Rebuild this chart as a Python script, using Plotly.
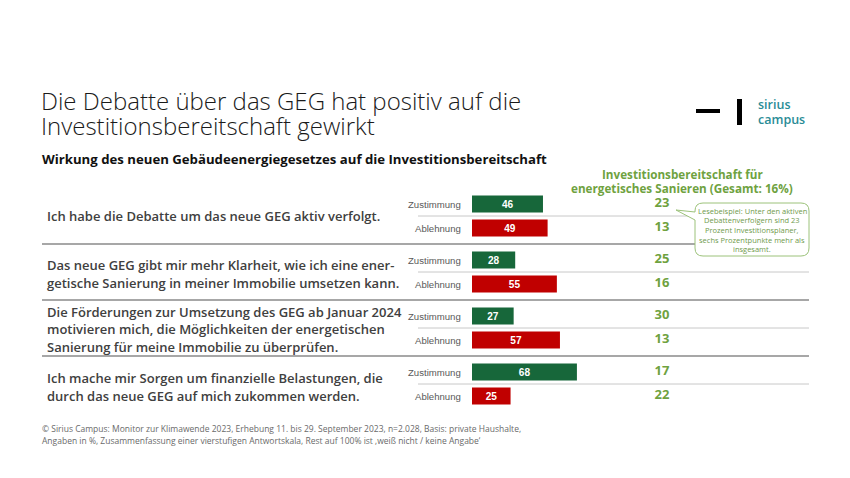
import plotly.graph_objects as go

W, H = 850, 478

statements = [
    ["Ich habe die Debatte um das neue GEG aktiv verfolgt."],
    ["Das neue GEG gibt mir mehr Klarheit, wie ich eine ener-",
     "getische Sanierung in meiner Immobilie umsetzen kann."],
    ["Die Förderungen zur Umsetzung des GEG ab Januar 2024",
     "motivieren mich, die Möglichkeiten der energetischen",
     "Sanierung für meine Immobilie zu überprüfen."],
    ["Ich mache mir Sorgen um finanzielle Belastungen, die",
     "durch das neue GEG auf mich zukommen werden."],
]
row_labels = ["Zustimmung", "Ablehnung"]
zustimmung = [46, 28, 27, 68]
ablehnung = [49, 55, 57, 25]
invest_zust = [23, 25, 30, 17]
invest_abl = [13, 16, 13, 22]

GREEN = "#17673A"
RED = "#C00000"
LGREEN = "#6FA23F"
GRAY = "#404040"

# layout geometry (pixels)
X0 = 472.0
PPU = 1.543  # pixels per unit
group_top = 188.0
group_h = 56.0
z_off, a_off = 16.0, 40.0

def px(x):
    return x / W

def py(y):
    return 1 - y / H

x_range_max = (W - X0) / PPU

yz = [group_top + group_h * i + z_off for i in range(4)]
ya = [group_top + group_h * i + a_off for i in range(4)]

fig = go.Figure()
fig.add_trace(go.Bar(
    x=zustimmung, y=yz, orientation="h", width=17,
    marker=dict(color=GREEN, line=dict(width=0)),
    text=[str(v) for v in zustimmung], textposition="inside",
    insidetextanchor="middle",
    textfont=dict(color="white", size=11, family="Liberation Sans", weight="bold"),
    hoverinfo="skip", showlegend=False))
fig.add_trace(go.Bar(
    x=ablehnung, y=ya, orientation="h", width=17,
    marker=dict(color=RED, line=dict(width=0)),
    text=[str(v) for v in ablehnung], textposition="inside",
    insidetextanchor="middle",
    textfont=dict(color="white", size=11, family="Liberation Sans", weight="bold"),
    hoverinfo="skip", showlegend=False))

xnum = (662 - X0) / PPU
fig.add_trace(go.Scatter(
    x=[xnum] * 8, y=yz + ya, mode="text",
    text=[str(v) for v in invest_zust + invest_abl],
    textfont=dict(color=LGREEN, size=13, family="Open Sans", weight="bold"),
    hoverinfo="skip", showlegend=False))

ann = []
shapes = []

def text(x, y, s, size, color, family="Open Sans", weight="normal", xanchor="left"):
    ann.append(dict(x=px(x), y=py(y), xref="paper", yref="paper", text=s,
                    showarrow=False, xanchor=xanchor, yanchor="middle",
                    font=dict(size=size, color=color, family=family, weight=weight)))

# title
text(39, 100, "Die Debatte über das GEG hat positiv auf die", 24, "#1a1a1a", weight=300)
text(39, 125, "Investitionsbereitschaft gewirkt", 24, "#1a1a1a", weight=300)
# subtitle
text(40, 159, "Wirkung des neuen Gebäudeenergiegesetzes auf die Investitionsbereitschaft",
     13.2, "#111111", weight="bold")
# column header
text(682, 174, "Investitionsbereitschaft für", 11.7, LGREEN,
     weight="bold", xanchor="center")
text(682, 188, "energetisches Sanieren (Gesamt: 16%)", 11.7, LGREEN,
     weight="bold", xanchor="center")

# statements
centers = [216, 274, 329, 387]
for i, lines in enumerate(statements):
    n = len(lines)
    for j, line in enumerate(lines):
        yy = centers[i] + (j - (n - 1) / 2) * 17.5
        text(45, yy, line, 13, GRAY, weight=600)

# row labels
for i in range(4):
    text(463, yz[i], row_labels[0], 9.6, "#595959", family="Liberation Sans", xanchor="right")
    text(463, ya[i], row_labels[1], 9.6, "#595959", family="Liberation Sans", xanchor="right")

# separators
for i in range(4):
    ysep = group_top + group_h * i + 28
    shapes.append(dict(type="line", xref="paper", yref="paper",
                       x0=px(418), x1=px(809), y0=py(ysep), y1=py(ysep),
                       line=dict(color="#c8c8c8", width=1)))
for i in range(1, 4):
    ysep = group_top + group_h * i
    shapes.append(dict(type="line", xref="paper", yref="paper",
                       x0=px(42), x1=px(809), y0=py(ysep), y1=py(ysep),
                       line=dict(color="#8a8a8a", width=1.5)))

# callout box
bx0, bx1, by0, by1, r = 695, 809, 203, 256, 8
tip = (676, 210)
path = (f"M {px(bx0 + r)},{py(by0)} L {px(bx1 - r)},{py(by0)} "
        f"Q {px(bx1)},{py(by0)} {px(bx1)},{py(by0 + r)} "
        f"L {px(bx1)},{py(by1 - r)} Q {px(bx1)},{py(by1)} {px(bx1 - r)},{py(by1)} "
        f"L {px(bx0 + r)},{py(by1)} Q {px(bx0)},{py(by1)} {px(bx0)},{py(by1 - r)} "
        f"L {px(bx0)},{py(220)} L {px(tip[0])},{py(tip[1])} L {px(bx0)},{py(212)} "
        f"L {px(bx0)},{py(by0 + r)} Q {px(bx0)},{py(by0)} {px(bx0 + r)},{py(by0)} Z")
shapes.append(dict(type="path", xref="paper", yref="paper", path=path,
                   line=dict(color="#9cc27a", width=1), fillcolor="white"))
box_lines = ["Lesebeispiel: Unter den aktiven", "Debattenverfolgern sind 23",
             "Prozent Investitionsplaner,", "sechs Prozentpunkte mehr als", "insgesamt."]
for k, s in enumerate(box_lines):
    text(752, 211 + k * 9.5, s, 7.5, "#6f9a4c", xanchor="center")

# footnote
text(40, 428, "© Sirius Campus: Monitor zur Klimawende 2023, Erhebung 11. bis 29. September 2023, n=2.028, Basis: private Haushalte,",
     8.5, "#6a6a6a")
text(40, 440, "Angaben in %, Zusammenfassung einer vierstufigen Antwortskala, Rest auf 100% ist ‚weiß nicht / keine Angabe‘",
     8.5, "#6a6a6a")

# logo
shapes.append(dict(type="rect", xref="paper", yref="paper", x0=px(696), x1=px(720),
                   y0=py(113), y1=py(109), fillcolor="black", line=dict(width=0)))
shapes.append(dict(type="rect", xref="paper", yref="paper", x0=px(737), x1=px(742),
                   y0=py(125), y1=py(99), fillcolor="black", line=dict(width=0)))
text(756, 104, "sirius", 12.5, "#2a8c96", weight=600)
text(756, 119, "campus", 12.5, "#2a8c96", weight=600)

fig.update_layout(
    width=W, height=H, margin=dict(l=0, r=0, t=0, b=0),
    paper_bgcolor="white", plot_bgcolor="rgba(0,0,0,0)",
    barmode="overlay",
    xaxis=dict(domain=[X0 / W, 1], range=[0, x_range_max], visible=False, fixedrange=True),
    yaxis=dict(domain=[0, 1], range=[H, 0], visible=False, fixedrange=True),
    annotations=ann, shapes=shapes,
    uniformtext=dict(mode=False),
)
fig.write_html("out.html")
